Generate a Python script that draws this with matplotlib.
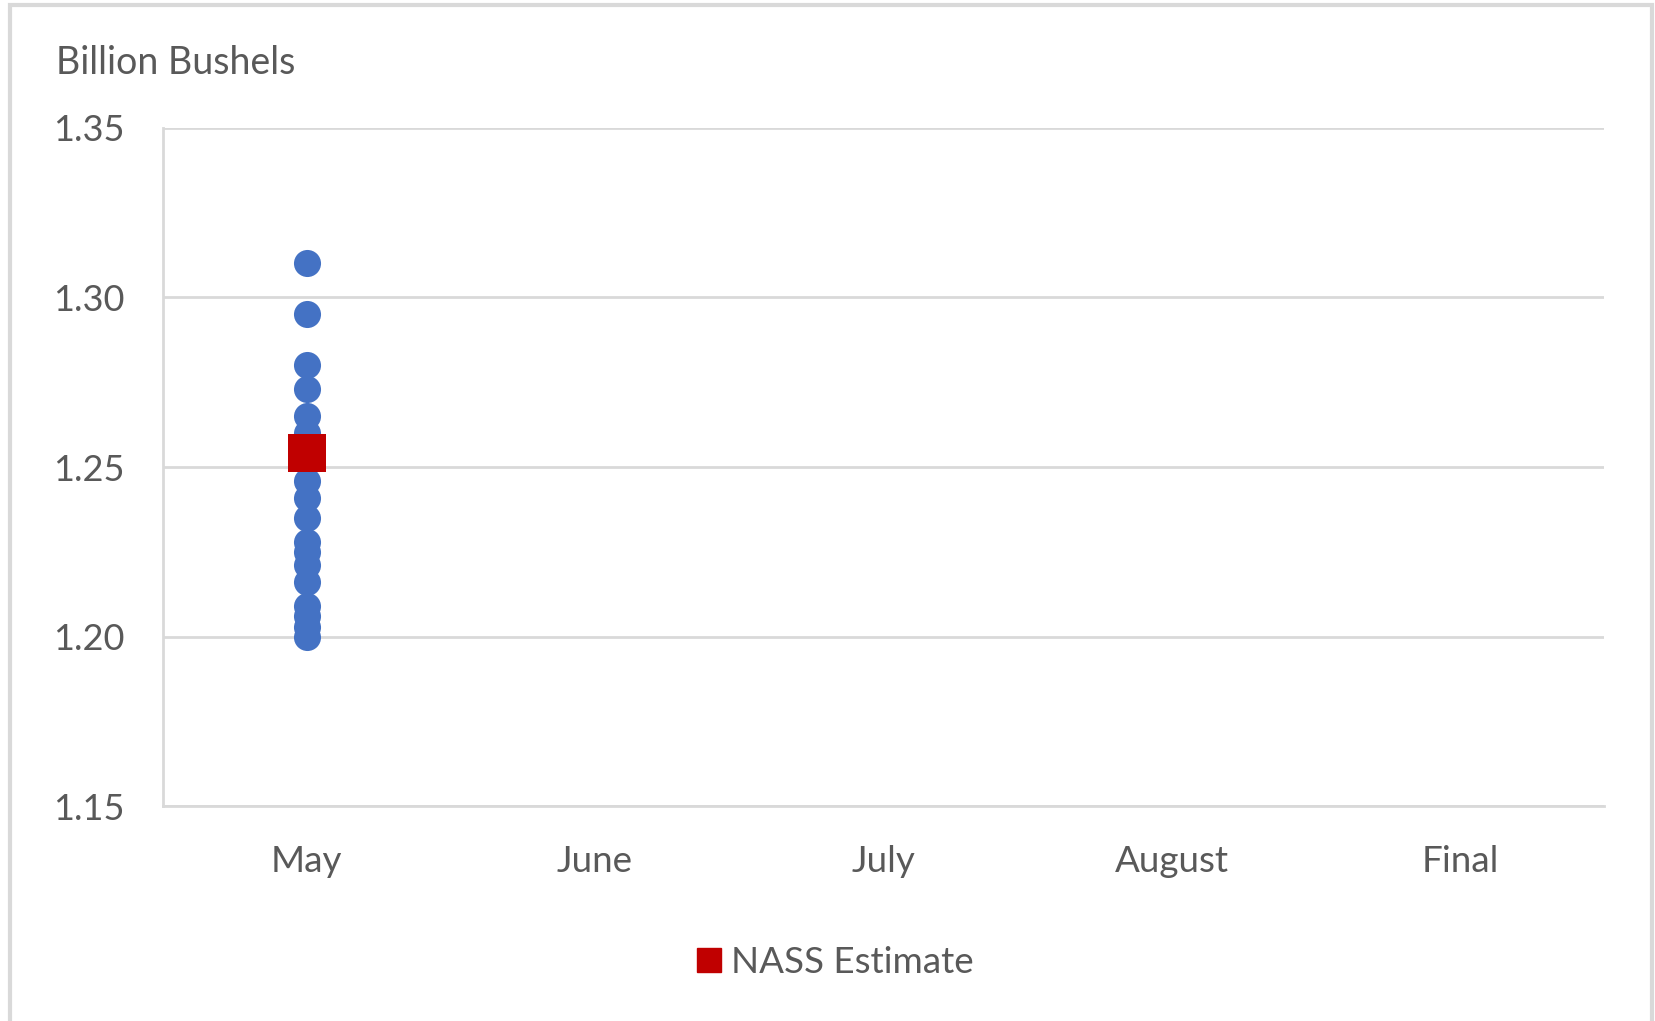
import matplotlib.pyplot as plt
from matplotlib.lines import Line2D

# survey forecasts (billion bushels), all for May
categories = ["May", "June", "July", "August", "Final"]
forecast_month = "May"
forecasts = [1.310, 1.295, 1.280, 1.273, 1.265, 1.260, 1.246, 1.241, 1.235,
             1.228, 1.225, 1.221, 1.216, 1.209, 1.206, 1.203, 1.200]
nass_month = "May"
nass_estimate = 1.254

yticks = [1.15, 1.20, 1.25, 1.30, 1.35]

plt.rcParams['font.family'] = ['Lato', 'DejaVu Sans']
text_color = "#595959"
grid_color = "#D9D9D9"

fig = plt.figure(figsize=(16.55, 10.21), dpi=100)
ax = fig.add_axes([0.0982, 0.2102, 0.871, 0.6647])

x_of = {c: i for i, c in enumerate(categories)}
ax.scatter([x_of[forecast_month]] * len(forecasts), forecasts,
           s=380, color="#4472C4", zorder=3, linewidths=0)
ax.scatter([x_of[nass_month]], [nass_estimate], s=720, marker="s",
           color="#C00000", zorder=4, linewidths=0)

ax.set_xlim(-0.5, len(categories) - 0.5)
ax.set_ylim(1.15, 1.35)
ax.set_xticks(range(len(categories)))
ax.set_xticklabels(categories)
ax.set_yticks(yticks)
ax.set_yticklabels([f"{v:.2f}" for v in yticks])
ax.tick_params(axis="both", length=0, colors=text_color)
ax.tick_params(axis="y", pad=27, labelsize=26)
ax.tick_params(axis="x", pad=28, labelsize=26.5)

ax.grid(axis="y", color=grid_color, linewidth=2)
ax.set_axisbelow(True)
for side in ["top", "right"]:
    ax.spines[side].set_visible(False)
for side in ["left", "bottom"]:
    ax.spines[side].set_color(grid_color)
    ax.spines[side].set_linewidth(2)

fig.text(56 / 1655, 1 - 63 / 1021, "Billion Bushels", fontsize=27,
         color=text_color, va="center", ha="left")

handle = Line2D([], [], marker="s", linestyle="none", color="#C00000",
                markersize=17)
fig.legend([handle], ["NASS Estimate"], loc="center",
           bbox_to_anchor=(0.503, 1 - 962 / 1021), frameon=False,
           fontsize=26.5, labelcolor=text_color, handletextpad=0.1,
           handlelength=1.0)

# chart border
border = plt.Rectangle((10 / 1655, -0.05), (1652 - 10) / 1655, 1.05 - 5 / 1021,
                       transform=fig.transFigure, fill=False,
                       edgecolor=grid_color, linewidth=3)
fig.patches.append(border)

fig.savefig("out.png", dpi=100)
